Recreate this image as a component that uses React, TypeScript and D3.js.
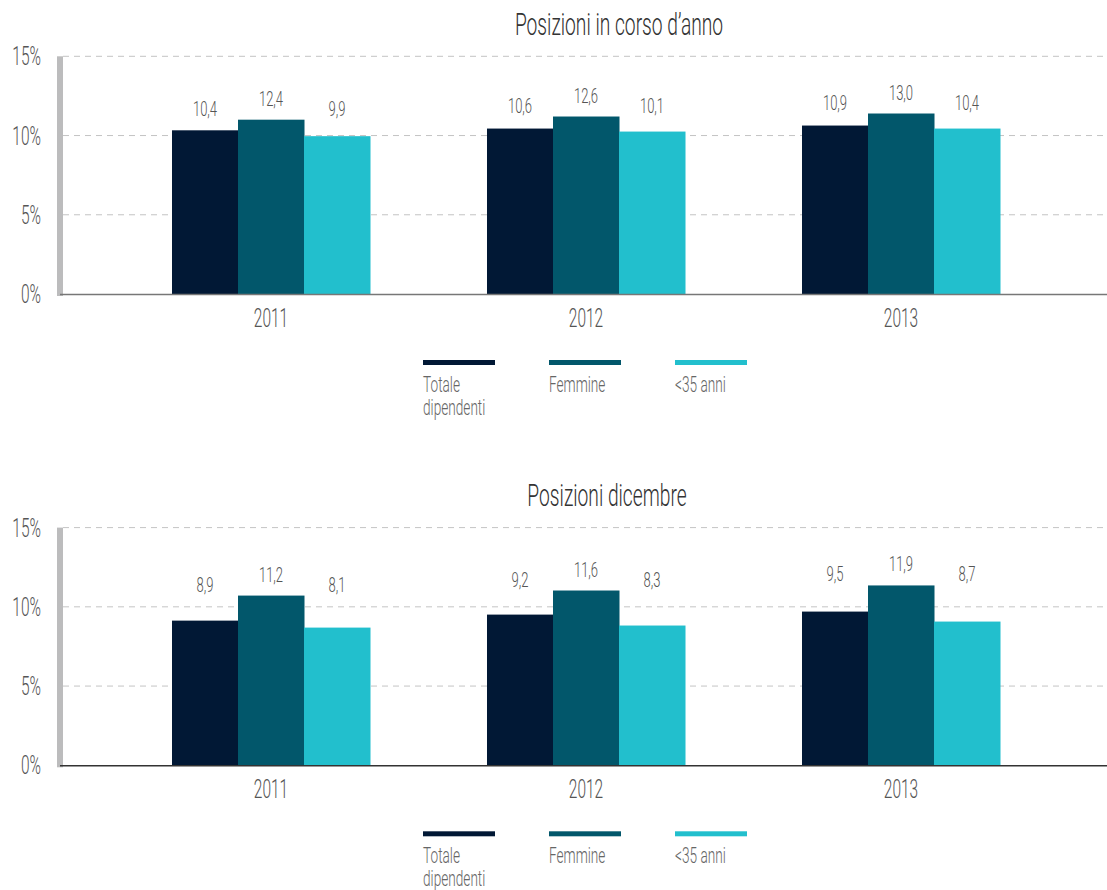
import { useEffect, useRef } from 'react';
import * as d3 from 'd3';

const YEARS = ['2011', '2012', '2013'];
const SERIES = ['Totale dipendenti', 'Femmine', '<35 anni'];
const LEGEND_LINES = [['Totale', 'dipendenti'], ['Femmine'], ['<35 anni']];
const COLORS = ['#011835', '#02576b', '#22bfcd'];
const Y_TICKS = [0, 5, 10, 15];

// Posizioni in corso d'anno (bar heights as drawn, labels as printed)
const CORSO_TOTALE = [10.33, 10.44, 10.63];
const CORSO_FEMMINE = [11.0, 11.2, 11.39];
const CORSO_UNDER35 = [9.96, 10.25, 10.44];
const CORSO_LABELS = [['10,4', '10,6', '10,9'], ['12,4', '12,6', '13,0'], ['9,9', '10,1', '10,4']];

// Posizioni dicembre
const DIC_TOTALE = [9.13, 9.51, 9.7];
const DIC_FEMMINE = [10.71, 11.03, 11.35];
const DIC_UNDER35 = [8.69, 8.82, 9.07];
const DIC_LABELS = [['8,9', '9,2', '9,5'], ['11,2', '11,6', '11,9'], ['8,1', '8,3', '8,7']];

const W = 1107;
const H = 890;
const FONT = 'Roboto, "Liberation Sans", sans-serif';
const SX = 0.62; // horizontal squeeze to mimic the condensed face
const PANEL_DY = 471.3;

type Sel = d3.Selection<SVGGElement, unknown, null, undefined>;

function label(g: Sel, x: number, y: number, txt: string, size: number, anchor: string, fill: string) {
  g.append('text')
    .attr('transform', `translate(${x},${y}) scale(${SX},1)`)
    .attr('text-anchor', anchor)
    .attr('font-family', FONT)
    .attr('font-weight', 300)
    .attr('font-size', size)
    .attr('fill', fill)
    .text(txt);
}

function drawPanel(g: Sel, title: string, titleX: number, values: number[][], labels: string[][], axisColor: string) {
  const y = d3.scaleLinear().domain([0, 15]).range([294, 56.3]);
  const x0 = d3.scaleBand().domain(YEARS).range([113.5, 1058.5]).paddingInner(0.3714).paddingOuter(0.1857);
  const x1 = d3.scaleBand().domain(SERIES).range([0, x0.bandwidth()]);

  label(g, titleX, 35, title, 31, 'middle', '#333');

  // grey left rule
  g.append('rect').attr('x', 57).attr('y', y(15)).attr('width', 6).attr('height', y(0) - y(15) + 2).attr('fill', '#bcbcbd');

  // grid
  Y_TICKS.filter(t => t > 0).forEach(t => {
    g.append('line')
      .attr('x1', 63).attr('x2', W).attr('y1', y(t)).attr('y2', y(t))
      .attr('stroke', '#c4c4c4').attr('stroke-width', 1).attr('stroke-dasharray', '6,5');
  });

  Y_TICKS.forEach(t => label(g, 41, y(t) + 9, `${t}%`, 25, 'end', '#555'));

  // bars
  YEARS.forEach((yr, i) => {
    const gx = x0(yr)!;
    SERIES.forEach((s, j) => {
      g.append('rect')
        .attr('x', gx + x1(s)!).attr('y', y(values[j][i]))
        .attr('width', x1.bandwidth() + 0.5).attr('height', y(0) - y(values[j][i]))
        .attr('fill', COLORS[j]);
    });
    const topF = y(values[1][i]);
    SERIES.forEach((s, j) => {
      const ly = j === 1 ? topF - 14 : topF - 4;
      label(g, gx + x1(s)! + x1.bandwidth() / 2, ly, labels[j][i], 21, 'middle', '#555');
    });
    label(g, gx + x0.bandwidth() / 2, y(0) + 33, yr, 25, 'middle', '#555');
  });

  // baseline
  g.append('line').attr('x1', 60).attr('x2', W).attr('y1', y(0) + 0.5).attr('y2', y(0) + 0.5)
    .attr('stroke', axisColor).attr('stroke-width', 1.6);

  // legend
  const lx = d3.scalePoint().domain(SERIES).range([423, 675]);
  SERIES.forEach((s, j) => {
    const x = lx(s)!;
    g.append('rect').attr('x', x).attr('y', 360).attr('width', 72).attr('height', 5).attr('fill', COLORS[j]);
    LEGEND_LINES[j].forEach((ln, k) => label(g, x, 391.7 + k * 23, ln, 22, 'start', '#666'));
  });
}

export default function App() {
  const ref = useRef<SVGSVGElement>(null);

  useEffect(() => {
    if (!ref.current) return;
    const svg = d3.select(ref.current);
    svg.selectAll('*').remove();
    svg.append('rect').attr('width', W).attr('height', H).attr('fill', '#fff');

    const top = svg.append('g') as Sel;
    drawPanel(top, 'Posizioni in corso d’anno', 619, [CORSO_TOTALE, CORSO_FEMMINE, CORSO_UNDER35], CORSO_LABELS, '#777');

    const bottom = svg.append('g').attr('transform', `translate(0,${PANEL_DY})`) as Sel;
    drawPanel(bottom, 'Posizioni dicembre', 607, [DIC_TOTALE, DIC_FEMMINE, DIC_UNDER35], DIC_LABELS, '#333');
  }, []);

  return (
    <svg ref={ref} width={W} height={H} style={{ position: 'absolute', left: 0, top: 0, display: 'block' }} />
  );
}
